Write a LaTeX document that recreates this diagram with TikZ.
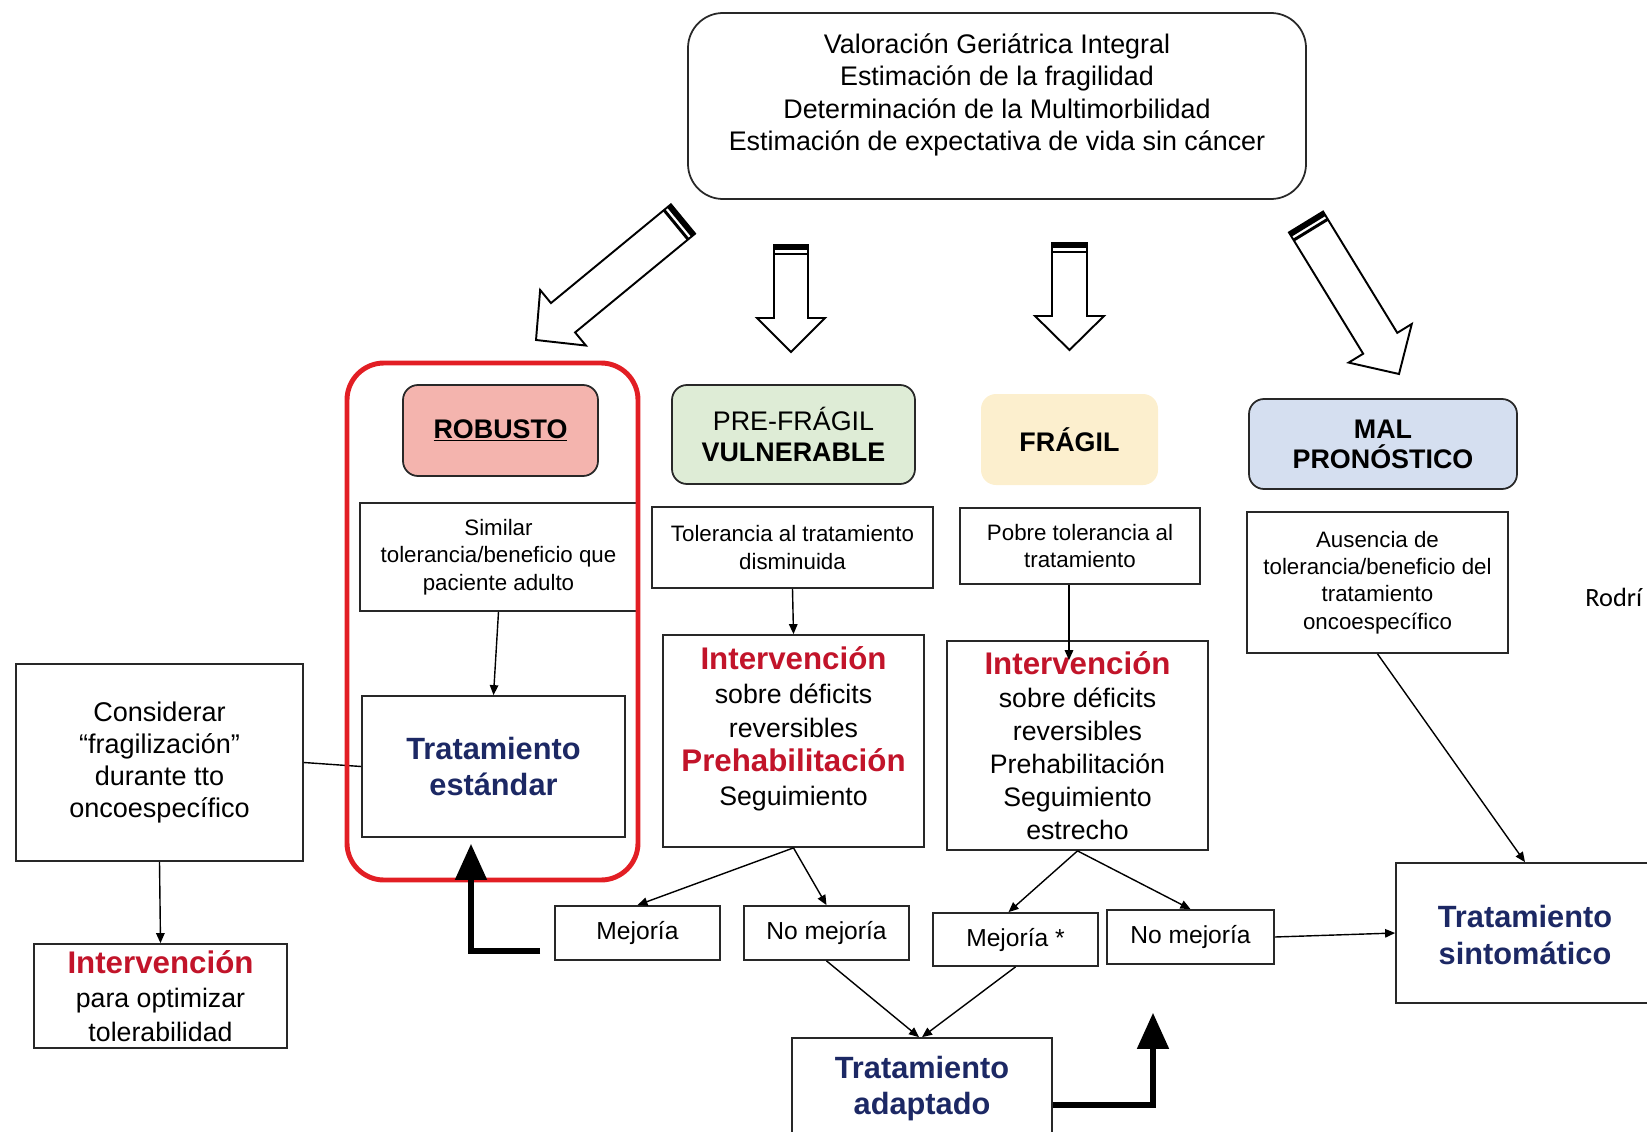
\documentclass[tikz,border=0pt]{standalone}
\usepackage{fontspec}
\setmainfont{Liberation Sans}
\newfontfamily\notefont{Carlito}
\usetikzlibrary{arrows.meta,calc}

\definecolor{navytxt}{RGB}{28,40,100}
\definecolor{redtxt}{RGB}{194,20,42}
\definecolor{framered}{RGB}{226,30,36}
\definecolor{robfill}{RGB}{244,180,174}
\definecolor{prefill}{RGB}{222,236,214}
\definecolor{fragfill}{RGB}{252,239,206}
\definecolor{malfill}{RGB}{213,223,240}
\definecolor{boxline}{RGB}{40,40,40}

% hollow block arrow with a striped tail:
% tail x, tail y, direction angle, length, shaft half-width, head half-width, head length
\newcommand{\hollowarrow}[7]{%
  \begin{scope}[shift={(#1,#2)}, rotate=#3, x=0.02cm, y=0.02cm]
    \draw[line width=1.1pt, fill=white, line join=miter]
      (0,-#5) -- ({#4-#7},-#5) -- ({#4-#7},-#6) -- (#4,0) -- ({#4-#7},#6)
      -- ({#4-#7},#5) -- (0,#5) -- cycle;
    \fill (0,-#5) rectangle (5,#5);
    \draw[line width=1.7pt] (9,-#5) -- (9,#5);
  \end{scope}}

% red bold keyword inside a box
\newcommand{\redkw}[1]{{\color{redtxt}\fontsize{17.8}{19}\selectfont\bfseries #1}}

\tikzset{
  pbox/.style={draw=boxline, line width=1pt, fill=white, inner sep=0pt, align=center},
  dims/.style 2 args={minimum width=#1*0.02cm, minimum height=#2*0.02cm},
  hdr/.style={pbox, rounded corners=0.3cm},
  txt/.style={inner sep=0pt, align=center},
  fsmall/.style={font=\fontsize{12.7}{15.5}\selectfont},
  fmid/.style={font=\fontsize{15.3}{18.5}\selectfont},
  fhdr/.style={font=\fontsize{15.3}{17.5}\selectfont},
  fmej/.style={font=\fontsize{14}{16.8}\selectfont},
  fnavy/.style={font=\fontsize{17.5}{20.5}\selectfont\bfseries, text=navytxt},
  conn/.style={draw=black, line width=0.8pt, -{Triangle[length=0.2cm,width=0.17cm]}},
  plainline/.style={draw=black, line width=0.8pt},
  bigarrow/.style={draw=black, line width=2.9pt, -{Triangle[length=0.72cm,width=0.62cm]}}
}

\begin{document}
\begin{tikzpicture}[x=0.02cm, y=-0.02cm]
\useasboundingbox (0,0) rectangle (1647,1132);
\clip (0,0) rectangle (1647,1132);

% assessment box
\node[pbox, rounded corners=0.7cm, dims={618}{186}] (top) at (997,106) {};
\node[txt, fmid] (toptext) at (997,95)
  {Valoración Geriátrica Integral\\Estimación de la fragilidad\\Determinación de la Multimorbilidad\\Estimación de expectativa de vida sin cáncer};

% block arrows towards the four profiles
\hollowarrow{683}{219}{219.46}{190.4}{19}{36}{35}
\hollowarrow{791}{245}{-90}{107}{17}{34}{34}
\hollowarrow{1069.5}{243}{-90}{107}{17.5}{34.5}{34}
\hollowarrow{1306}{222}{-58.54}{178.2}{20}{37}{36}

% profile headers
\node[hdr, fill=robfill, dims={195}{91}, fhdr] (robusto) at (500.5,430.5) {\bfseries\underline{ROBUSTO}};
\node[hdr, fill=prefill, dims={243}{99}, fhdr] (prefragil) at (793.5,434.5) {PRE-FRÁGIL\\\textbf{VULNERABLE}};
\node[hdr, draw=none, fill=fragfill, dims={177}{91}, fhdr] (fragil) at (1069.5,439.5) {\textbf{FRÁGIL}};
\node[hdr, fill=malfill, dims={268}{90}, fhdr, font=\fontsize{15.3}{17}\selectfont\bfseries] (malpron) at (1383,444) {MAL\\PRONÓSTICO};

% descriptions
\node[pbox, dims={277}{108}, fsmall] (similar) at (498.5,557) {Similar\\tolerancia/beneficio que\\paciente adulto};
\node[pbox, dims={281}{81}, fsmall] (toler) at (792.5,547.5) {Tolerancia al tratamiento\\disminuida};
\node[pbox, dims={240}{76}, fsmall] (pobre) at (1080,546) {Pobre tolerancia al\\tratamiento};
\node[pbox, dims={261}{141}, fsmall] (ausencia) at (1377.5,582.5) {Ausencia de\\tolerancia/beneficio del\\tratamiento\\oncoespecífico};

% treatments and interventions
\node[pbox, dims={263}{141}, fnavy] (estandar) at (493.5,766.5) {Tratamiento\\estándar};
\node[pbox, dims={261}{212}] (interv1) at (793.5,741) {};
\node[txt, font=\fontsize{15.2}{19.4}\selectfont] (interv1text) at (793.5,728.5)
  {\redkw{Intervención}\\sobre déficits\\reversibles\\\redkw{Prehabilitación}\\Seguimiento};
\node[pbox, dims={261}{209}, font=\fontsize{15.2}{18.8}\selectfont] (interv2) at (1077.5,745.5)
  {\redkw{Intervención}\\sobre déficits\\reversibles\\Prehabilitación\\Seguimiento\\estrecho};
\node[pbox, dims={287}{197}, font=\fontsize{15.4}{18.4}\selectfont] (considerar) at (159.5,762.5)
  {Considerar\\“fragilización”\\durante tto\\oncoespecífico};
\node[pbox, dims={253}{104}, font=\fontsize{15.2}{19.5}\selectfont] (optimizar) at (160.5,996)
  {\redkw{Intervención}\\para optimizar\\tolerabilidad};

% outcomes
\node[pbox, dims={165}{54}, fmej] (mej1) at (637.5,933) {Mejoría};
\node[pbox, dims={165}{54}, fmej] (nomej1) at (826.5,933) {No mejoría};
\node[pbox, dims={165}{53}, fmej] (mej2) at (1015.5,939.5) {Mejoría *};
\node[pbox, dims={167}{54}, fmej] (nomej2) at (1190.5,937) {No mejoría};
\node[pbox, dims={260}{102}, fnavy] (adaptado) at (922,1089) {Tratamiento\\adaptado};
\node[pbox, dims={264}{140}] (sintom) at (1528,933) {};
\node[txt, fnavy, font=\fontsize{17.5}{21}\selectfont\bfseries] (sintomtext) at (1525,935) {Tratamiento\\sintomático};

\node[inner sep=0pt, anchor=west, font=\notefont\fontsize{15}{18}\selectfont] (rodri) at (1585,597) {Rodrí};

% connectors
\draw[conn] (similar.south) -- (estandar.north);
\draw[plainline] (considerar.east) -- (estandar.west);
\draw[conn] (considerar.south) -- (optimizar.north);
\draw[conn] (toler.south) -- (interv1.north);
\draw[conn] ($(pobre.south)+(-11,0)$) -- ($(interv2.north)+(-8.5,20)$);
\draw[conn] (ausencia.south) -- ($(sintom.north)+(-3,0)$);
\draw[conn] (interv1.south) -- (mej1.north);
\draw[conn] (interv1.south) -- (nomej1.north);
\draw[conn] (interv2.south) -- ($(mej2.north)+(-7,0)$);
\draw[conn] (interv2.south) -- (nomej2.north);
\draw[conn] (nomej1.south) -- ($(adaptado.north)+(-3,0)$);
\draw[conn] (mej2.south) -- (adaptado.north);
\draw[conn] (nomej2.east) -- (sintom.west);

% highlight around the robust pathway
\draw[framered, line width=2.8pt, rounded corners=0.74cm] (347,363) rectangle (638,880);

% thick return arrows
\draw[bigarrow] ($(mej1.west)+(-14,18)$) -| ($(estandar.south)+(-22.5,6)$);
\draw[bigarrow] ($(adaptado.east)+(0,16)$) -| ($(nomej2.south)+(-37.5,48)$);
\end{tikzpicture}
\end{document}
